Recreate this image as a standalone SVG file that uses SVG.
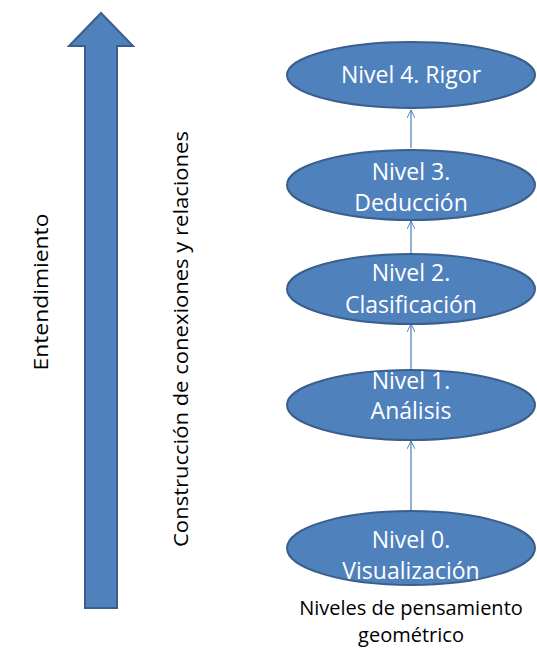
<svg xmlns="http://www.w3.org/2000/svg" width="537" height="666" viewBox="0 0 537 666">
<defs>
<style>
.node ellipse{fill:#4f81bd;stroke:#3a5f8c;stroke-width:2}
.nt{fill:#ffffff;font-family:"Open Sans","Liberation Sans",sans-serif;font-size:23px;text-anchor:middle}
.lbl{fill:#000000;font-family:"Open Sans","Liberation Sans",sans-serif;font-size:20px;text-anchor:middle}
.conn line{stroke:#4a7ebb;stroke-width:1.2;fill:none}
</style>
<marker id="ah" viewBox="0 0 10 10" refX="10" refY="5" markerWidth="8" markerHeight="8" orient="auto" markerUnits="userSpaceOnUse">
<path d="M0,0 L10,5 L0,10" fill="none" stroke="#4a7ebb" stroke-width="1.2"/>
</marker>
</defs>
<rect width="537" height="666" fill="#ffffff"/>
<g id="big-arrow">
<path d="M85,608 L117,608 L117,46 L133,46 L101,13 L69,46 L85,46 Z" fill="#4f81bd" stroke="#3a5f8c" stroke-width="2"/>
</g>
<g id="label-entendimiento">
<text class="lbl" font-size="23" textLength="157" lengthAdjust="spacingAndGlyphs" transform="translate(48,292) rotate(-90)">Entendimiento</text>
</g>
<g id="label-construccion">
<text class="lbl" font-size="23" textLength="416" lengthAdjust="spacingAndGlyphs" transform="translate(188,339) rotate(-90)">Construcción de conexiones y relaciones</text>
</g>
<g class="conn" id="connectors">
<line x1="411" y1="148" x2="411" y2="110" marker-end="url(#ah)"/>
<line x1="411" y1="253" x2="411" y2="221" marker-end="url(#ah)"/>
<line x1="411" y1="369" x2="411" y2="324" marker-end="url(#ah)"/>
<line x1="411" y1="510" x2="411" y2="441" marker-end="url(#ah)"/>
</g>
<g class="node" id="nivel4">
<ellipse cx="411" cy="75" rx="124" ry="33"/>
<text class="nt" x="411" y="83">Nivel 4. Rigor</text>
</g>
<g class="node" id="nivel3">
<ellipse cx="411" cy="185" rx="124" ry="35"/>
<text class="nt" x="411" y="180">Nivel 3.</text>
<text class="nt" x="411" y="211">Deducción</text>
</g>
<g class="node" id="nivel2">
<ellipse cx="411" cy="289" rx="124" ry="35"/>
<text class="nt" x="411" y="281">Nivel 2.</text>
<text class="nt" x="411" y="313">Clasificación</text>
</g>
<g class="node" id="nivel1">
<ellipse cx="411" cy="405" rx="124" ry="35"/>
<text class="nt" x="411" y="389">Nivel 1.</text>
<text class="nt" x="411" y="419">Análisis</text>
</g>
<g class="node" id="nivel0">
<ellipse cx="411" cy="548" rx="124" ry="37"/>
<text class="nt" x="411" y="548">Nivel 0.</text>
<text class="nt" x="411" y="579">Visualización</text>
</g>
<g id="caption">
<text class="lbl" x="411" y="615">Niveles de pensamiento</text>
<text class="lbl" x="411" y="642">geométrico</text>
</g>
</svg>
